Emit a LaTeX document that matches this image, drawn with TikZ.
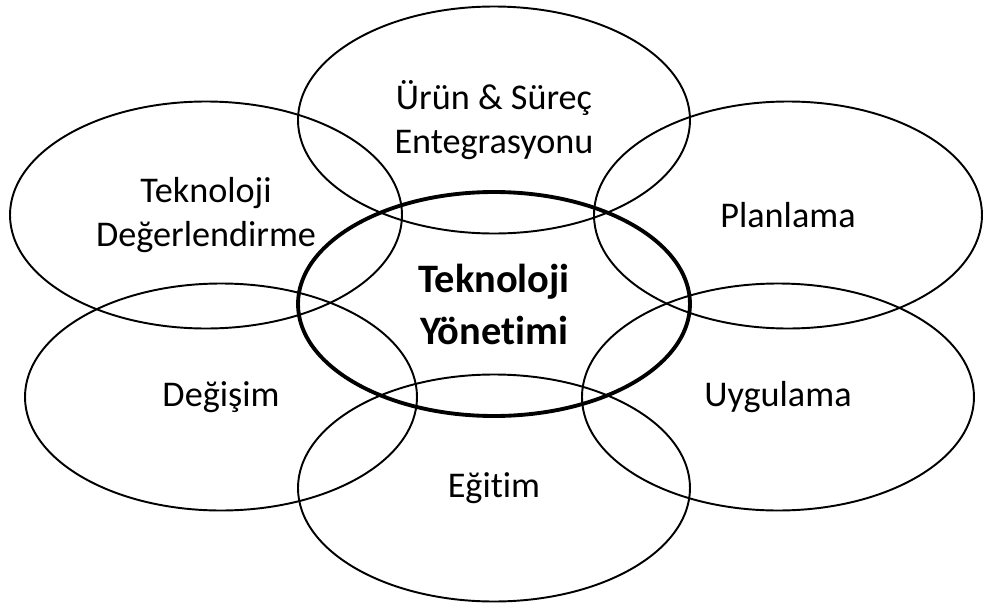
\documentclass[tikz,border=0pt]{standalone}
\usepackage{fontspec}
\setmainfont{Carlito}[Ligatures=NoCommon]
\usepackage{tikz}
\usetikzlibrary{shapes}

\begin{document}
\begin{tikzpicture}[
    petal/.style={ellipse,draw,line width=0.55pt,inner sep=0pt,align=center,
        minimum width=3.92cm,minimum height=2.27cm,font=\fontsize{10.3}{12.5}\selectfont},
    core/.style={petal,line width=1.1pt,minimum height=2.24cm,
        font=\fontsize{11.5}{14.8}\selectfont\bfseries}]
    \useasboundingbox (0,0) rectangle (9.83,-6.06);
    % Outer ellipses
    \node[petal] (urun) at (4.94,-1.20) {Ürün \& Süreç\\Entegrasyonu};
    \node[petal] (degerlendirme) at (2.06,-2.15) {Teknoloji\\Değerlendirme};
    \node[petal,minimum width=3.88cm] (planlama) at (7.88,-2.15) {Planlama};
    \node[petal] (degisim) at (2.21,-3.97) {Değişim};
    \node[petal] (uygulama) at (7.78,-3.97) {Uygulama};
    \node[petal] (egitim) at (4.94,-4.88) {Eğitim};
    % Centre
    \node[core] (yonetim) at (4.94,-3.04) {Teknoloji\\Yönetimi};
\end{tikzpicture}
\end{document}
